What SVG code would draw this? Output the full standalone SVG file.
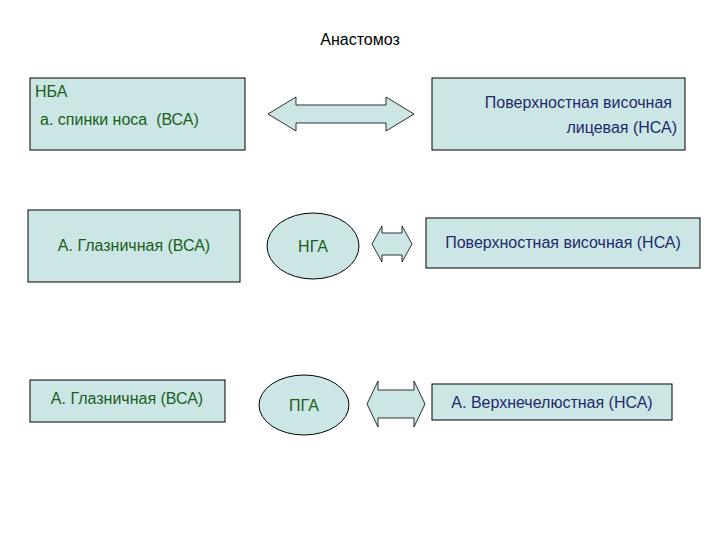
<svg xmlns="http://www.w3.org/2000/svg" width="720" height="540" viewBox="0 0 720 540">
<style>
.b{fill:#cce6e6;stroke:#000;stroke-width:1}
.a{fill:#cce6e6;stroke:#000;stroke-width:0.8}
text{font-family:"Liberation Sans",Arial,sans-serif;font-size:16px}
.g{fill:#1a5e1a}.u{fill:#1e2a6a}
</style>
<rect width="720" height="540" fill="#fff"/>
<text x="360" y="45" text-anchor="middle" fill="#000">Анастомоз</text>
<g id="n1"><rect class="b" x="30" y="78" width="215" height="72"/><text class="g" x="35" y="97">НБА</text><text class="g" x="40" y="125" xml:space="preserve">а. спинки носа  (ВСА)</text></g>
<g id="n2"><rect class="b" x="432" y="78" width="253" height="72"/><text class="u" x="672" y="108" text-anchor="end">Поверхностная височная</text><text class="u" x="677" y="133" text-anchor="end">лицевая (НСА)</text></g>
<g id="n3"><rect class="b" x="28" y="210" width="212" height="72"/><text class="g" x="134" y="251" text-anchor="middle">А. Глазничная (ВСА)</text></g>
<g id="n4"><ellipse class="b" cx="313" cy="246" rx="46" ry="33"/><text class="g" x="313" y="252" text-anchor="middle">НГА</text></g>
<g id="n5"><rect class="b" x="426" y="218" width="274" height="50"/><text class="u" x="563" y="248" text-anchor="middle">Поверхностная височная (НСА)</text></g>
<g id="n6"><rect class="b" x="30" y="380" width="195" height="42"/><text class="g" x="127" y="404" text-anchor="middle">А. Глазничная (ВСА)</text></g>
<g id="n7"><ellipse class="b" cx="304" cy="405" rx="45" ry="30"/><text class="g" x="304" y="411" text-anchor="middle">ПГА</text></g>
<g id="n8"><rect class="b" x="432" y="384" width="240" height="36"/><text class="u" x="552" y="408" text-anchor="middle">А. Верхнечелюстная (НСА)</text></g>
<g id="connectors">
<path class="a" d="M268,114 L296,97 L296,105 L386,105 L386,97 L414,114 L386,131 L386,123 L296,123 L296,131 Z"/>
<path class="a" d="M372,244 L382,226 L382,233 L402,233 L402,226 L412,244 L402,262 L402,255 L382,255 L382,262 Z"/>
<path class="a" d="M367,404 L378,381 L378,390 L414,390 L414,381 L425,404 L414,427 L414,418 L378,418 L378,427 Z"/>
</g>
</svg>
